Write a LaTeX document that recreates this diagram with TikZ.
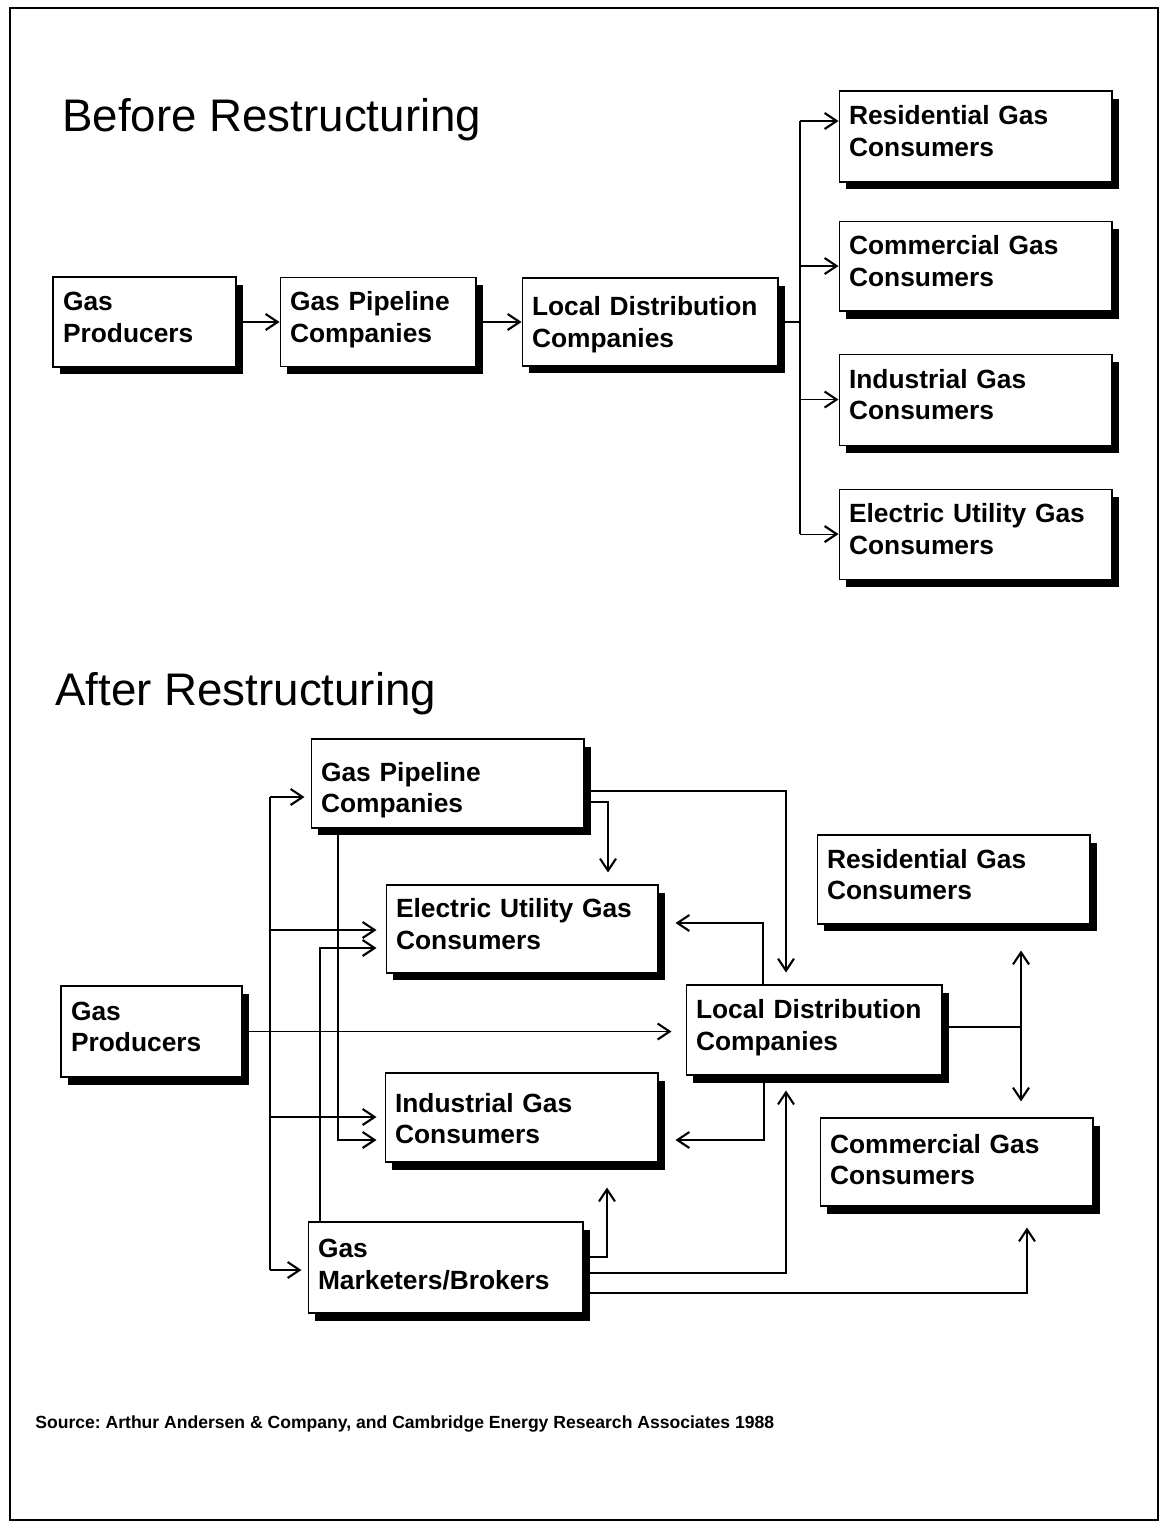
\documentclass[tikz,border=0pt]{standalone}
\usepackage{fontspec}
\setmainfont{Liberation Sans}
\usetikzlibrary{positioning,arrows.meta,shadows}

\begin{document}
\frenchspacing
\begin{tikzpicture}[x=0.02cm, y=-0.02cm,
  box/.style={draw, fill=white, line width=0.6pt, align=left, inner xsep=0.2cm, inner ysep=0pt,
    text height=0.4cm, text depth=0.86cm, font=\fontsize{15}{18}\selectfont\bfseries,
    drop shadow={fill=black, opacity=1, shadow xshift=0.14cm, shadow yshift=-0.15cm}},
  link/.style={line width=0.6pt},
  arr/.style={link, -{Straight Barb[length=0.24cm, width=0.32cm, line width=1.2pt]}},
  heading/.style={anchor=base west, inner sep=0pt, font=\fontsize{26}{30}\selectfont}]
  \useasboundingbox (0,0) rectangle (1168,1523);
  \draw[line width=1.2pt] (10,8) rectangle (1158,1520);

  % before restructuring
  \node[heading] (tbefore) at (62,132) {Before Restructuring};
  \node[box, text width=3.26cm, minimum height=1.8cm] (bgp) at (144.5,322) {Gas\\Producers};
  \node[box, text width=3.52cm, minimum height=1.78cm, right=0.86cm of bgp] (bgpc) {Gas Pipeline\\Companies};
  \node[box, text width=4.72cm, minimum height=1.76cm, text depth=0.66cm, right=0.9cm of bgpc] (bldc) {Local Distribution\\Companies};
  \node[box, text width=5.06cm, minimum height=1.82cm] (bres) at (975.5,136.5) {Residential Gas\\Consumers};
  \node[box, text width=5.06cm, minimum height=1.8cm, below=0.76cm of bres] (bcom) {Commercial Gas\\Consumers};
  \node[box, text width=5.06cm, minimum height=1.82cm, below=0.84cm of bcom] (bind) {Industrial Gas\\Consumers};
  \node[box, text width=5.06cm, minimum height=1.8cm, below=0.86cm of bind] (belec) {Electric Utility Gas\\Consumers};

  \draw[arr] (bgp.east) -- (bgpc.west);
  \draw[arr] (bgpc.east) -- (bldc.west);
  \coordinate (bbus) at (800,328);
  \draw[link] (bldc.east) -- (bldc.east -| bbus);
  \draw[link] ([yshift=0.31cm]bbus |- bres.west) -- (bbus |- belec.west);
  \draw[arr] ([yshift=0.31cm]bbus |- bres.west) -- ([yshift=0.31cm]bres.west);
  \foreach \c in {bcom,bind,belec}
    \draw[arr] (bbus |- \c.west) -- (\c.west);

  % after restructuring
  \node[heading] (tafter) at (55,705) {After Restructuring};
  \node[box, text width=5.06cm, minimum height=1.78cm, text depth=0.5cm] (agpc) at (447.5,783.5) {Gas Pipeline\\Companies};
  \node[box, text width=5.04cm, minimum height=1.76cm] (aelec) at (522,929) {Electric Utility Gas\\Consumers};
  \node[box, text width=5.06cm, minimum height=1.78cm] (ares) at (953.5,879.5) {Residential Gas\\Consumers};
  \node[box, text width=3.22cm, minimum height=1.82cm] (agp) at (151.5,1031.5) {Gas\\Producers};
  \node[box, text width=4.72cm, minimum height=1.8cm] (aldc) at (814,1030) {Local Distribution\\Companies};
  \node[box, text width=5.06cm, minimum height=1.78cm, text depth=0.62cm] (aind) at (521.5,1117.5) {Industrial Gas\\Consumers};
  \node[box, text width=5.06cm, minimum height=1.76cm, text depth=0.76cm] (acom) at (956.5,1162) {Commercial Gas\\Consumers};
  \node[box, text width=5.1cm, minimum height=1.82cm, text depth=0.8cm] (agm) at (445.5,1267.5) {Gas\\Marketers/Brokers};

  \coordinate (abus) at (270,797);
  \coordinate (asplit) at (1021,1027);
  \draw[arr, shorten >=0.28cm] (agp.east) -- (agp.east -| aldc.west);
  \draw[link] (abus) -- (abus |- 0,1270);
  \draw[arr, shorten >=0.12cm] (abus) -- (abus -| agpc.west);
  \draw[arr, shorten >=0.18cm] (abus |- 0,930) -- (aelec.west |- 0,930);
  \draw[arr, shorten >=0.16cm] (abus |- 0,1117) -- (aind.west |- 0,1117);
  \draw[arr, shorten >=0.12cm] (abus |- 0,1270) -- (agm.west |- 0,1270);
  \draw[arr, shorten >=0.16cm] (agpc.south -| 338,0) |- (aind.west |- 0,1140);
  \draw[arr, shorten >=0.18cm] (agm.north -| 320,0) |- (aelec.west |- 0,948);
  \draw[arr, shorten >=0.24cm] (agpc.east |- 0,791) -| (aldc.north -| 786,0);
  \draw[arr, shorten >=0.24cm] (agpc.east |- 0,802) -| (aelec.north -| 608,0);
  \draw[arr, shorten >=0.34cm] (aldc.north -| 763,0) |- (aelec.east |- 0,923);
  \draw[arr, shorten >=0.34cm] (aldc.south -| 764,0) |- (aind.east |- 0,1140);
  \draw[link] (aldc.east |- asplit) -- (asplit);
  \draw[arr, shorten >=0.52cm] (asplit) -- (asplit |- ares.south);
  \draw[arr, shorten >=0.32cm] (asplit) -- (asplit |- acom.north);
  \draw[arr, shorten >=0.5cm] (agm.east |- 0,1257) -| (aind.south -| 607,0);
  \draw[arr, shorten >=0.3cm] (agm.east |- 0,1273) -| (aldc.south -| 786,0);
  \draw[arr, shorten >=0.42cm] (agm.east |- 0,1293) -| (acom.south -| 1027,0);

  \node[anchor=base west, inner sep=0pt, font=\fontsize{10}{12}\selectfont\bfseries] (src) at (35,1428)
    {Source: Arthur Andersen \& Company, and Cambridge Energy Research Associates 1988};
\end{tikzpicture}
\end{document}
